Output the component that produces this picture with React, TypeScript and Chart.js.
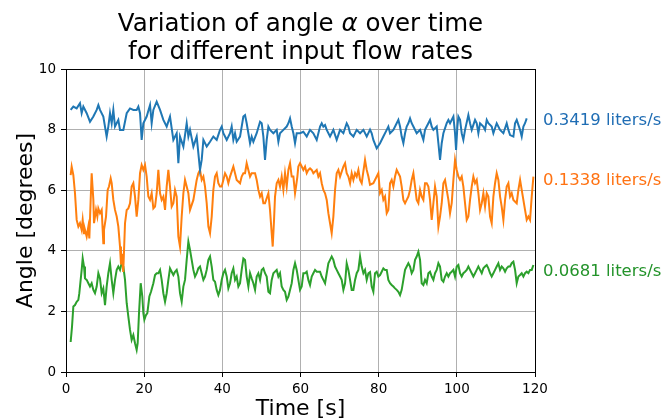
import React, { useEffect, useRef } from "react";
import { Chart, registerables } from "chart.js";

Chart.register(...registerables);

const titleLine1 = ["Variation of angle ", "α", " over time"];
const titleLine2 = "for different input flow rates";
const xAxisTitle = "Time [s]";
const yAxisTitle = "Angle [degrees]";
const xTickValues = [0, 20, 40, 60, 80, 100, 120];
const yTickValues = [0, 2, 4, 6, 8, 10];
const seriesNames = ["0.3419 liters/s", "0.1338 liters/s", "0.0681 liters/s"];
const seriesColors = ["#1f77b4", "#ff7f0e", "#2ca02c"];
const labelColors = ["#1f6db4", "#ff7212", "#23932a"];
const labelLevels = [8.3, 6.3, 3.3];

// [time s, angle deg]
const flowHigh = [
  [1.19, 8.65], [1.88, 8.76], [2.73, 8.7], [3.58, 8.87], [4.01, 8.54], [4.44, 8.76], [5.29, 8.54], [6.14, 8.26],
  [7.0, 8.43], [7.85, 8.65], [8.28, 8.81], [8.7, 8.65], [9.55, 8.43], [10.4, 7.77], [10.83, 8.1], [11.26, 8.54],
  [11.69, 8.21], [12.11, 8.65], [12.54, 8.1], [13.39, 8.32], [13.82, 7.99], [14.67, 7.99], [15.53, 8.54], [16.38, 8.7],
  [17.23, 8.65], [18.08, 8.65], [18.51, 8.76], [18.94, 8.54], [19.36, 7.66], [19.79, 8.21], [20.64, 8.43], [21.5, 8.81],
  [21.92, 8.21], [22.35, 8.65], [23.2, 8.92], [24.06, 8.65], [24.91, 8.32], [25.76, 8.1], [26.61, 8.43], [27.47, 7.66],
  [28.32, 7.88], [28.75, 6.89], [29.17, 7.77], [30.03, 7.44], [30.88, 8.21], [31.31, 7.77], [31.73, 7.99], [32.59, 7.44],
  [33.44, 7.77], [34.29, 6.67], [34.72, 7.0], [35.15, 7.66], [36.0, 7.44], [36.85, 7.6], [37.7, 7.77], [38.56, 7.66],
  [39.41, 7.99], [39.84, 8.1], [40.26, 7.88], [40.69, 7.77], [41.12, 7.66], [41.97, 7.88], [42.39, 8.1], [42.82, 7.66],
  [43.25, 7.88], [43.67, 7.6], [44.53, 7.77], [45.38, 8.43], [45.81, 8.48], [46.23, 8.21], [46.66, 7.88], [47.09, 7.55],
  [47.51, 7.77], [47.94, 7.6], [48.79, 7.88], [49.65, 8.26], [50.07, 8.21], [50.5, 7.77], [50.92, 7.0], [51.35, 7.66],
  [51.78, 8.1], [52.2, 7.99], [53.06, 7.88], [53.91, 7.99], [54.34, 7.6], [54.76, 7.88], [55.62, 7.99], [56.47, 8.1],
  [56.9, 8.21], [57.32, 8.37], [57.75, 8.1], [58.18, 7.88], [58.6, 7.55], [59.03, 7.88], [59.88, 7.88], [60.73, 7.93],
  [61.59, 7.77], [62.44, 7.99], [63.29, 7.88], [64.15, 7.66], [65.0, 8.1], [65.43, 8.21], [65.85, 8.1], [66.28, 8.15],
  [66.71, 7.99], [67.56, 7.77], [68.41, 7.99], [69.26, 7.66], [70.12, 7.99], [70.97, 7.88], [71.82, 8.21], [72.25, 8.1],
  [72.68, 7.88], [73.53, 7.77], [74.38, 7.99], [75.24, 7.88], [76.09, 7.99], [76.94, 7.77], [77.79, 8.0], [78.22, 7.88],
  [78.64, 7.66], [79.5, 7.38], [80.35, 7.55], [81.2, 7.77], [82.06, 7.99], [82.48, 8.1], [82.91, 7.88], [83.76, 7.99],
  [84.61, 8.21], [85.04, 8.32], [85.47, 8.1], [85.89, 7.77], [86.32, 7.55], [86.75, 7.88], [87.17, 8.1], [87.6, 8.21],
  [88.03, 8.37], [88.45, 8.21], [88.88, 8.1], [89.73, 7.88], [90.59, 7.99], [91.44, 7.66], [91.86, 7.99], [92.29, 8.1],
  [92.72, 8.21], [93.14, 8.32], [93.57, 8.1], [94.0, 7.99], [94.85, 8.1], [95.28, 7.55], [95.7, 7.0], [96.13, 7.55],
  [96.56, 7.88], [97.41, 8.21], [97.84, 8.32], [98.26, 8.21], [99.12, 8.43], [99.54, 7.88], [99.8, 7.33], [100.14, 8.1],
  [100.39, 8.43], [100.82, 8.32], [101.25, 7.88], [101.67, 7.66], [102.1, 7.99], [102.95, 8.48], [103.38, 8.21], [103.81, 7.99],
  [104.66, 8.32], [105.09, 8.21], [105.51, 7.88], [105.94, 8.21], [106.79, 8.1], [107.22, 7.99], [107.65, 8.32], [108.07, 8.21],
  [108.92, 8.1], [109.35, 7.88], [110.2, 8.21], [111.06, 7.99], [111.91, 7.88], [112.76, 8.21], [113.19, 7.99], [113.62, 7.82],
  [114.47, 7.77], [114.9, 8.21], [115.32, 8.32], [116.18, 7.99], [116.6, 7.77], [117.03, 8.1], [117.45, 8.21], [117.88, 8.37],
];

const flowMid = [
  [1.19, 6.5], [1.45, 6.78], [1.88, 6.5], [2.3, 5.9], [2.73, 5.02], [3.16, 4.8], [3.58, 4.91], [4.01, 4.69],
  [4.27, 5.02], [4.61, 4.58], [4.86, 4.69], [5.29, 4.47], [5.72, 4.8], [5.97, 4.41], [6.31, 5.68], [6.57, 6.56],
  [7.0, 5.68], [7.17, 4.91], [7.68, 5.35], [8.02, 5.13], [8.27, 5.4], [8.7, 5.24], [9.13, 5.35], [9.55, 4.25],
  [9.72, 4.69], [10.24, 5.13], [10.66, 6.01], [11.0, 6.12], [11.43, 6.39], [11.69, 6.23], [12.11, 5.68], [12.54, 5.35],
  [12.97, 5.13], [13.39, 4.8], [13.82, 4.14], [14.07, 3.55], [14.3, 3.9], [14.65, 3.3], [15.1, 4.91], [15.53, 5.35],
  [15.95, 5.4], [16.38, 5.57], [16.8, 6.12], [17.23, 6.23], [17.66, 5.79], [18.08, 5.13], [18.51, 5.68], [18.94, 6.56],
  [19.36, 6.83], [19.79, 6.67], [20.22, 6.83], [20.64, 6.45], [21.07, 5.79], [21.5, 5.68], [21.92, 5.9], [22.35, 5.4],
  [22.78, 5.46], [23.2, 5.9], [23.63, 6.67], [24.06, 5.9], [24.48, 5.68], [24.91, 5.79], [25.34, 5.35], [25.76, 6.12],
  [26.19, 6.67], [26.61, 6.12], [27.04, 5.46], [27.47, 5.57], [27.89, 6.01], [28.32, 5.79], [28.75, 4.47], [29.17, 4.14],
  [29.6, 5.13], [30.03, 5.9], [30.45, 6.34], [30.88, 6.12], [31.31, 5.9], [31.73, 5.35], [32.59, 5.68], [33.44, 6.34],
  [33.86, 6.56], [34.29, 6.67], [34.72, 6.34], [35.15, 6.45], [35.57, 6.12], [36.0, 5.57], [36.43, 4.8], [36.85, 4.58],
  [37.28, 5.13], [37.7, 6.01], [38.13, 6.45], [38.56, 6.56], [38.98, 6.23], [39.41, 6.12], [39.84, 6.12], [40.26, 6.34],
  [40.69, 6.56], [41.12, 6.45], [41.54, 6.23], [41.97, 6.45], [42.82, 6.78], [43.25, 6.56], [43.67, 6.34], [44.53, 6.23],
  [44.95, 6.45], [45.38, 6.56], [45.81, 6.56], [46.23, 6.89], [46.66, 6.67], [47.09, 6.45], [47.51, 6.56], [48.37, 6.56],
  [48.79, 6.34], [49.22, 6.01], [49.65, 5.79], [50.07, 5.9], [50.5, 5.57], [50.92, 5.57], [51.78, 5.9], [52.2, 5.35],
  [52.63, 4.58], [52.89, 4.14], [53.23, 5.02], [53.48, 5.79], [53.91, 6.23], [54.34, 6.34], [54.76, 6.12], [55.19, 6.45],
  [55.62, 6.01], [56.04, 6.56], [56.47, 6.12], [56.9, 6.67], [57.32, 6.89], [57.75, 6.45], [58.18, 6.45], [58.6, 5.9],
  [58.86, 6.12], [59.2, 6.45], [59.45, 6.78], [59.88, 6.89], [60.31, 6.78], [60.73, 6.67], [61.16, 6.78], [61.59, 6.56],
  [62.01, 6.67], [62.44, 6.72], [62.87, 6.67], [63.29, 6.56], [64.15, 6.67], [64.57, 6.45], [65.0, 6.56], [65.43, 6.23],
  [65.85, 6.01], [66.28, 5.9], [66.71, 5.68], [67.13, 5.24], [67.56, 4.91], [67.98, 4.58], [68.41, 5.13], [68.84, 6.01],
  [69.26, 6.56], [69.69, 6.67], [70.12, 6.45], [70.97, 6.78], [71.4, 6.89], [71.82, 6.56], [72.25, 6.45], [72.68, 6.23],
  [73.1, 6.56], [73.53, 6.34], [73.96, 6.56], [74.38, 6.45], [74.81, 6.67], [75.24, 6.34], [75.66, 6.23], [76.51, 7.0],
  [76.94, 6.67], [77.37, 6.45], [77.79, 6.18], [78.64, 6.23], [79.5, 6.45], [79.92, 6.56], [80.35, 5.9], [80.78, 6.01],
  [81.2, 5.68], [81.63, 5.79], [82.06, 5.24], [82.48, 5.35], [82.91, 6.23], [83.33, 6.34], [83.76, 6.12], [84.19, 6.45],
  [84.61, 6.67], [85.04, 6.56], [85.47, 6.45], [85.89, 6.12], [86.32, 5.68], [86.75, 5.57], [87.17, 5.68], [87.6, 5.79],
  [88.03, 6.01], [88.45, 6.34], [88.88, 6.56], [89.31, 6.12], [89.73, 5.68], [90.16, 5.57], [90.59, 6.01], [91.01, 5.79],
  [91.44, 5.68], [91.86, 6.23], [92.29, 6.23], [92.72, 6.12], [93.14, 5.68], [93.57, 5.02], [94.0, 5.57], [94.42, 6.12],
  [94.85, 5.79], [95.28, 4.8], [95.7, 5.13], [96.13, 5.57], [96.56, 6.23], [96.98, 6.34], [97.41, 6.01], [97.84, 5.68],
  [98.26, 5.24], [98.69, 5.57], [99.12, 6.34], [99.54, 7.0], [99.97, 6.67], [100.39, 6.45], [100.82, 6.34], [101.25, 6.45],
  [101.67, 6.12], [102.1, 5.57], [102.53, 5.02], [102.95, 5.13], [103.38, 5.68], [103.81, 6.12], [104.23, 6.45], [104.66, 6.23],
  [105.09, 6.34], [105.51, 5.9], [105.94, 5.35], [106.37, 5.57], [106.79, 5.9], [107.22, 5.46], [107.65, 5.9], [108.07, 5.79],
  [108.5, 5.13], [108.92, 4.91], [109.35, 5.79], [109.78, 6.23], [110.2, 6.56], [110.63, 6.34], [111.06, 5.79], [111.48, 5.46],
  [111.91, 5.02], [112.34, 5.68], [112.76, 6.12], [113.19, 6.23], [113.62, 5.79], [114.04, 5.9], [114.47, 5.68], [115.32, 5.57],
  [115.75, 6.01], [116.18, 6.34], [116.6, 6.01], [117.45, 5.35], [117.88, 5.02], [118.31, 5.13], [118.73, 5.02], [119.16, 5.79],
  [119.59, 6.45],
];

const flowLow = [
  [1.19, 0.99], [1.54, 1.5], [1.88, 2.16], [2.3, 2.21], [2.73, 2.32], [3.16, 2.38], [3.41, 2.6], [3.75, 3.04],
  [4.01, 3.37], [4.27, 3.75], [4.61, 3.48], [4.86, 3.09], [5.29, 3.04], [5.72, 2.93], [6.14, 2.82], [6.57, 2.93],
  [7.0, 2.71], [7.42, 2.6], [7.85, 2.82], [8.28, 3.26], [8.7, 3.09], [9.13, 2.6], [9.55, 2.76], [9.98, 2.21],
  [10.4, 2.82], [10.83, 3.26], [11.26, 3.59], [11.69, 3.04], [12.11, 2.6], [12.54, 3.04], [12.97, 3.37], [13.39, 3.48],
  [13.82, 3.37], [14.24, 3.59], [14.67, 3.48], [15.1, 3.04], [15.53, 2.27], [15.95, 1.83], [16.38, 1.39], [16.8, 1.06],
  [17.23, 1.22], [17.66, 0.95], [18.08, 0.73], [18.34, 0.95], [18.68, 1.94], [19.11, 2.93], [19.53, 2.49], [19.79, 1.94],
  [20.05, 1.72], [20.47, 1.88], [20.81, 1.94], [21.33, 2.49], [21.75, 2.65], [22.35, 2.93], [22.78, 3.2], [23.2, 3.26],
  [23.63, 3.26], [24.06, 3.37], [24.48, 3.04], [24.91, 2.6], [25.34, 2.32], [25.76, 2.6], [26.19, 3.04], [26.61, 3.42],
  [27.04, 3.31], [27.47, 3.2], [27.89, 3.31], [28.32, 3.37], [28.75, 3.15], [29.17, 2.6], [29.6, 2.32], [30.03, 2.82],
  [30.45, 3.04], [30.88, 3.7], [31.31, 4.3], [31.73, 4.03], [32.16, 3.7], [32.59, 3.37], [33.01, 3.15], [33.44, 3.26],
  [33.86, 3.42], [34.29, 3.48], [34.72, 3.26], [35.15, 3.04], [35.57, 3.15], [36.0, 3.37], [36.43, 3.7], [36.85, 3.81],
  [37.28, 3.48], [37.7, 3.04], [38.13, 2.98], [38.56, 2.71], [38.98, 2.54], [39.41, 2.71], [39.84, 3.04], [40.26, 3.26],
  [40.69, 3.37], [41.12, 3.15], [41.54, 2.76], [41.97, 2.93], [42.39, 3.26], [42.82, 3.42], [43.25, 3.04], [43.67, 3.15],
  [44.1, 2.82], [44.53, 2.93], [44.95, 3.37], [45.38, 3.75], [45.81, 3.7], [46.23, 3.15], [46.66, 2.82], [47.09, 3.26],
  [47.51, 3.09], [47.94, 2.93], [48.37, 2.71], [48.79, 3.15], [49.22, 3.26], [49.65, 3.04], [50.07, 3.37], [50.5, 3.42],
  [50.92, 3.26], [51.35, 3.15], [51.78, 2.65], [52.2, 2.6], [52.63, 3.04], [53.06, 3.26], [53.91, 3.37], [54.34, 3.15],
  [54.76, 3.26], [55.19, 2.82], [55.62, 2.71], [56.04, 2.65], [56.47, 2.38], [56.9, 2.49], [57.32, 2.71], [57.75, 2.93],
  [58.18, 3.37], [58.6, 3.59], [59.03, 3.37], [59.45, 3.04], [59.88, 2.71], [60.31, 2.82], [60.73, 3.26], [61.16, 3.26],
  [61.59, 3.31], [62.01, 3.04], [62.44, 2.87], [62.87, 3.15], [63.29, 3.26], [63.72, 3.37], [64.15, 3.31], [65.0, 3.31],
  [65.43, 3.15], [65.85, 3.04], [66.28, 2.93], [66.71, 3.26], [67.13, 3.59], [67.56, 3.7], [67.98, 3.81], [68.41, 3.7],
  [68.84, 3.48], [69.26, 3.37], [69.69, 3.26], [70.12, 3.15], [70.54, 3.04], [70.97, 2.71], [71.4, 2.93], [71.82, 3.59],
  [72.25, 3.37], [72.68, 3.04], [73.1, 2.71], [73.53, 2.71], [73.96, 3.04], [74.38, 3.26], [74.81, 3.37], [75.24, 3.81],
  [75.66, 3.48], [76.09, 3.26], [76.51, 3.37], [76.94, 3.04], [77.37, 3.26], [77.79, 3.3], [78.22, 2.82], [78.64, 2.65],
  [79.07, 3.26], [79.5, 3.31], [79.92, 3.15], [80.35, 3.2], [80.78, 3.31], [81.2, 3.42], [81.63, 3.37], [82.06, 3.37],
  [82.48, 3.04], [82.91, 2.93], [83.33, 2.87], [83.76, 2.82], [84.19, 2.76], [84.61, 2.71], [85.04, 2.65], [85.47, 2.54],
  [85.89, 2.71], [86.32, 3.04], [86.75, 3.37], [87.17, 3.48], [87.6, 3.59], [88.03, 3.48], [88.45, 3.26], [88.88, 3.37],
  [89.31, 3.7], [89.73, 3.81], [90.16, 3.97], [90.59, 3.7], [91.01, 2.93], [91.44, 2.87], [91.86, 3.04], [92.29, 2.93],
  [92.72, 3.26], [93.14, 3.31], [93.57, 3.15], [94.0, 3.04], [94.42, 3.26], [94.85, 3.37], [95.28, 3.59], [95.7, 3.48],
  [96.13, 3.04], [96.56, 2.98], [96.98, 3.15], [97.41, 3.26], [97.84, 3.15], [98.26, 3.26], [98.69, 3.31], [99.12, 3.37],
  [99.54, 3.15], [99.97, 3.48], [100.39, 3.53], [100.82, 3.26], [101.25, 3.15], [101.67, 3.26], [102.1, 3.31], [102.53, 3.37],
  [102.95, 3.48], [103.38, 3.37], [103.81, 3.26], [104.23, 3.15], [104.66, 3.26], [105.09, 3.37], [105.51, 3.48], [105.94, 3.37],
  [106.37, 3.26], [106.79, 3.42], [107.22, 3.48], [107.65, 3.53], [108.07, 3.42], [108.5, 3.26], [108.92, 3.15], [109.35, 3.26],
  [109.78, 3.37], [110.2, 3.48], [110.63, 3.59], [111.06, 3.37], [111.48, 3.48], [111.91, 3.42], [112.34, 3.31], [112.76, 3.42],
  [113.19, 3.48], [113.62, 3.48], [114.04, 3.59], [114.47, 3.64], [114.9, 3.37], [115.32, 2.93], [115.75, 3.15], [116.18, 3.2],
  [116.6, 3.26], [117.03, 3.15], [117.45, 3.26], [117.88, 3.31], [118.31, 3.26], [118.73, 3.37], [119.16, 3.37], [119.59, 3.53],
];

const allSeries = [flowHigh, flowMid, flowLow];

const FONT = "'DejaVu Sans', sans-serif";
const W = 665;
const H = 420;

const decorPlugin = {
  id: "decor",
  afterDraw(chart: any) {
    const ctx = chart.ctx;
    const a = chart.chartArea;
    const yScale = chart.scales.y;
    ctx.save();
    // spines
    ctx.strokeStyle = "#000";
    ctx.lineWidth = 1;
    ctx.strokeRect(Math.round(a.left) + 0.5, Math.round(a.top) + 0.5, Math.round(a.right - a.left), Math.round(a.bottom - a.top));

    // title
    const cx = (a.left + a.right) / 2;
    ctx.fillStyle = "#000";
    ctx.textBaseline = "alphabetic";
    const normal = `24.5px ${FONT}`;
    const italic = `italic 24.5px ${FONT}`;
    ctx.font = normal;
    const w0 = ctx.measureText(titleLine1[0]).width;
    const w2 = ctx.measureText(titleLine1[2]).width;
    ctx.font = italic;
    const w1 = ctx.measureText(titleLine1[1]).width;
    let x = cx - (w0 + w1 + w2) / 2;
    ctx.textAlign = "left";
    ctx.font = normal;
    ctx.fillText(titleLine1[0], x, 31);
    x += w0;
    ctx.font = italic;
    ctx.fillText(titleLine1[1], x, 31);
    x += w1;
    ctx.font = normal;
    ctx.fillText(titleLine1[2], x, 31);
    ctx.textAlign = "center";
    ctx.fillText(titleLine2, cx, 59);

    // axis titles
    ctx.font = `22px ${FONT}`;
    ctx.fillText(xAxisTitle, cx, 415);
    ctx.save();
    ctx.translate(32, (a.top + a.bottom) / 2);
    ctx.rotate(-Math.PI / 2);
    ctx.fillText(yAxisTitle, 0, 0);
    ctx.restore();

    // series labels on the right
    ctx.font = `16.5px ${FONT}`;
    ctx.textAlign = "left";
    ctx.textBaseline = "middle";
    seriesNames.forEach((name, i) => {
      ctx.fillStyle = labelColors[i];
      ctx.fillText(name, a.right + 8, yScale.getPixelForValue(labelLevels[i]));
    });
    ctx.restore();
  },
};

export default function App() {
  const ref = useRef<HTMLCanvasElement | null>(null);
  useEffect(() => {
    if (!ref.current) return;
    const chart = new Chart(ref.current, {
      type: "line",
      data: {
        datasets: allSeries.map((s, i) => ({
          label: seriesNames[i],
          data: s.map((p) => ({ x: p[0], y: p[1] })),
          borderColor: seriesColors[i],
          backgroundColor: seriesColors[i],
          borderWidth: 2,
          pointRadius: 0,
          tension: 0,
          fill: false,
        })),
      },
      options: {
        responsive: false,
        animation: false,
        devicePixelRatio: 1,
        layout: { padding: { left: 0, right: W - 535, top: 69, bottom: 0 } },
        plugins: { legend: { display: false }, title: { display: false }, tooltip: { enabled: false } },
        scales: {
          x: {
            type: "linear",
            min: 0,
            max: 120,
            afterFit: (s: any) => { s.height = H - 372; },
            afterBuildTicks: (s: any) => { s.ticks = xTickValues.map((v) => ({ value: v })); },
            grid: { color: "#b0b0b0", lineWidth: 1, tickColor: "#000", tickLength: 5, drawTicks: true },
            border: { display: false },
            ticks: { color: "#000", font: { family: FONT, size: 13.5 }, padding: 4, maxRotation: 0, autoSkip: false },
          },
          y: {
            type: "linear",
            min: 0,
            max: 10,
            afterFit: (s: any) => { s.width = 66; },
            afterBuildTicks: (s: any) => { s.ticks = yTickValues.map((v) => ({ value: v })); },
            grid: { color: "#b0b0b0", lineWidth: 1, tickColor: "#000", tickLength: 5, drawTicks: true },
            border: { display: false },
            ticks: { color: "#000", font: { family: FONT, size: 13.5 }, padding: 5, autoSkip: false },
          },
        },
      },
      plugins: [decorPlugin],
    });
    return () => chart.destroy();
  }, []);
  return (
    <div style={{ position: "fixed", left: 0, top: 0, width: W, height: H, background: "#fff" }}>
      <canvas ref={ref} width={W} height={H} style={{ width: W, height: H, display: "block" }} />
    </div>
  );
}
